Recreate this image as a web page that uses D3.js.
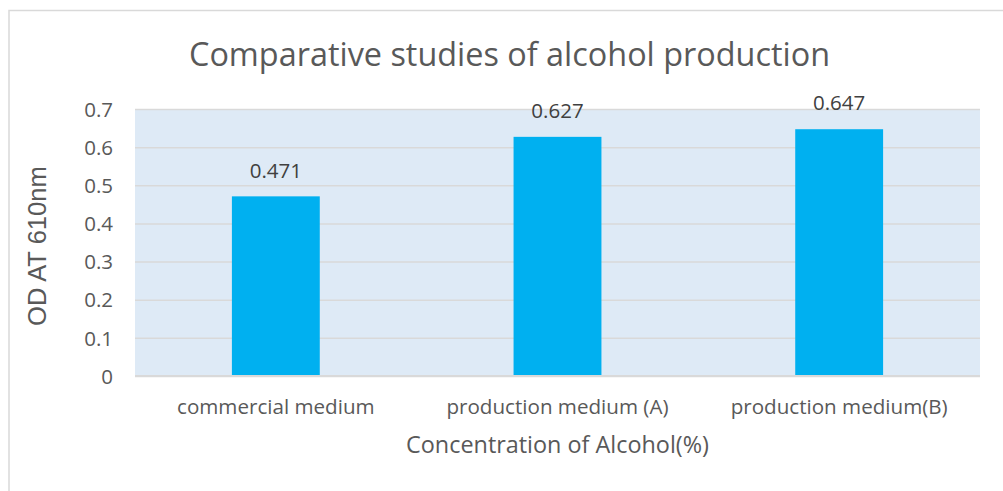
<!DOCTYPE html>
<html>
<head>
<meta charset="utf-8">
<script src="https://cdn.jsdelivr.net/npm/d3@7"></script>
<style>
  html, body { margin: 0; padding: 0; background: #fff; }
  svg { display: block; }
</style>
</head>
<body>
<svg id="chart" width="1003" height="491"></svg>
<script>
// Chart data
const categories = ["commercial medium", "production medium (A)", "production medium(B)"];
const odValues = [0.471, 0.627, 0.647];
const yTicks = [0, 0.1, 0.2, 0.3, 0.4, 0.5, 0.6, 0.7];
const chartTitle = "Comparative studies of alcohol production";
const xTitle = "Concentration of Alcohol(%)";
const yTitle = "OD AT 610nm";

const W = 1003, H = 491;
const plot = { left: 135, right: 980, top: 109, bottom: 376 };
const textColor = "#595959";
const font = "'Open Sans', sans-serif";

const svg = d3.select("#chart");

// Outer chart frame
svg.append("rect")
  .attr("x", 9).attr("y", 10.5)
  .attr("width", W + 20).attr("height", H + 20)
  .attr("fill", "#fff")
  .attr("stroke", "#D9D9D9").attr("stroke-width", 1.5);

const x = d3.scaleBand()
  .domain(categories)
  .range([plot.left, plot.right])
  .paddingInner(0.688)
  .paddingOuter(0.344);

const y = d3.scaleLinear()
  .domain([0, 0.7])
  .range([plot.bottom, plot.top]);

// Plot area background
svg.append("rect")
  .attr("x", plot.left).attr("y", plot.top)
  .attr("width", plot.right - plot.left)
  .attr("height", plot.bottom - plot.top)
  .attr("fill", "#DEEAF6");

// Horizontal gridlines + tick labels
const yAxis = d3.axisLeft(y)
  .tickValues(yTicks)
  .tickFormat(d => d === 0 ? "0" : d3.format(".1f")(d))
  .tickSize(-(plot.right - plot.left))
  .tickPadding(22);

const gy = svg.append("g")
  .attr("transform", `translate(${plot.left},0)`)
  .call(yAxis);
gy.select(".domain").remove();
gy.selectAll(".tick line")
  .attr("stroke", "#D9D9D9")
  .attr("stroke-width", 1.5);
gy.selectAll(".tick text")
  .attr("fill", textColor)
  .style("font-family", font)
  .style("font-size", "20.5px")
  .attr("dy", "0.35em");

// Bars
svg.append("g")
  .selectAll("rect")
  .data(odValues)
  .join("rect")
  .attr("x", (d, i) => x(categories[i]))
  .attr("y", d => y(d))
  .attr("width", x.bandwidth())
  .attr("height", d => y(0) - y(d))
  .attr("fill", "#00B0F0");

// Baseline
svg.append("line")
  .attr("x1", plot.left).attr("x2", plot.right)
  .attr("y1", y(0)).attr("y2", y(0))
  .attr("stroke", "#D9D9D9").attr("stroke-width", 2);

// Value labels
svg.append("g")
  .selectAll("text")
  .data(odValues)
  .join("text")
  .attr("x", (d, i) => x(categories[i]) + x.bandwidth() / 2)
  .attr("y", d => y(d) - 26)
  .attr("dy", "0.35em")
  .attr("text-anchor", "middle")
  .attr("fill", "#404040")
  .style("font-family", font)
  .style("font-size", "20.5px")
  .text(d => d3.format(".3f")(d));

// Category labels
svg.append("g")
  .selectAll("text")
  .data(categories)
  .join("text")
  .attr("x", d => x(d) + x.bandwidth() / 2)
  .attr("y", 407)
  .attr("dy", "0.35em")
  .attr("text-anchor", "middle")
  .attr("fill", textColor)
  .style("font-family", font)
  .style("font-size", "20.6px")
  .text(d => d);

// Titles
svg.append("text")
  .attr("x", 509.5)
  .attr("y", 55)
  .attr("dy", "0.35em")
  .attr("text-anchor", "middle")
  .attr("fill", textColor)
  .style("font-family", font)
  .style("font-size", "32.4px")
  .text(chartTitle);

svg.append("text")
  .attr("x", 557.5)
  .attr("y", 445)
  .attr("dy", "0.35em")
  .attr("text-anchor", "middle")
  .attr("fill", textColor)
  .style("font-family", font)
  .style("font-size", "23.4px")
  .text(xTitle);

svg.append("text")
  .attr("transform", "translate(37,246) rotate(-90)")
  .attr("dy", "0.35em")
  .attr("text-anchor", "middle")
  .attr("fill", textColor)
  .style("font-family", "'Liberation Sans', Arial, sans-serif")
  .style("font-size", "25.6px")
  .text(yTitle);
</script>
</body>
</html>
